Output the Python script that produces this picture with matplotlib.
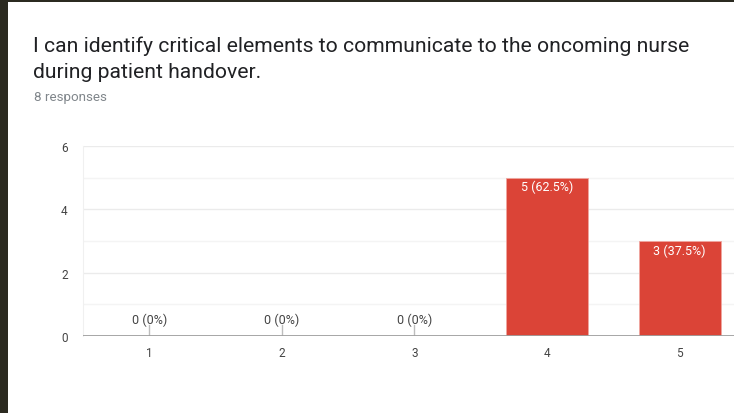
import matplotlib
matplotlib.use("Agg")
import matplotlib.pyplot as plt
from matplotlib.patches import Rectangle

# Survey answers on a 1-5 scale
categories = ["1", "2", "3", "4", "5"]
counts = [0, 0, 0, 5, 3]
total_responses = 8

title_lines = ["I can identify critical elements to communicate to the oncoming nurse",
               "during patient handover."]
subtitle = f"{total_responses} responses"

plt.rcParams['font.family'] = ['Roboto', 'DejaVu Sans']

W, H = 734, 414
fig = plt.figure(figsize=(W / 100, H / 100), dpi=100)
fig.patch.set_facecolor("white")

# dark frame along the top and left edges
frame = "#2b2a20"
fig.patches.append(Rectangle((0, 1 - 3 / H), 1, 3 / H, transform=fig.transFigure,
                             facecolor=frame, edgecolor="none", zorder=10))
fig.patches.append(Rectangle((0, 0), 8 / W, 1, transform=fig.transFigure,
                             facecolor=frame, edgecolor="none", zorder=10))

for i, line in enumerate(title_lines):
    fig.text(33 / W, 1 - (46 + 27 * i) / H, line, fontsize=15.2, color="#202124",
             va="center", ha="left")
fig.text(34 / W, 1 - 97 / H, subtitle, fontsize=9.6, color="#80868b",
         va="center", ha="left")

# plot area runs past the right edge of the figure
left, right = 83, 746
bottom, top = 337, 147
ax = fig.add_axes([left / W, 1 - bottom / H, (right - left) / W, (bottom - top) / H])
ax.set_facecolor("white")

x = list(range(1, len(categories) + 1))
ax.set_xlim(0.5, len(categories) + 0.5)
ax.set_ylim(0, 6)

for yv in range(1, 7):
    ax.axhline(yv, color="#ebebeb" if yv % 2 == 0 else "#f4f4f4", lw=1, zorder=0)
ax.axhline(0, color="#9e9e9e", lw=2, zorder=3)

bars = ax.bar(x, counts, width=0.62, color="#db4437", edgecolor="#f0a69f",
              linewidth=0.6, zorder=2)

for xi, c in zip(x, counts):
    label = f"{c} ({c / total_responses * 100:g}%)"
    if c == 0:
        ax.plot([xi, xi], [0, 0.36], color="#bdbdbd", lw=1, zorder=2)
        ax.text(xi, 0.52, label, ha="center", va="center", fontsize=9, color="#444444")
    else:
        ax.text(xi, c - 0.28, label, ha="center", va="center", fontsize=9, color="white")

ax.set_xticks(x)
ax.set_xticklabels(categories)
ax.set_yticks([0, 2, 4, 6])
ax.tick_params(axis="both", length=0, labelsize=8.5, labelcolor="#444444")
ax.tick_params(axis="x", pad=7)
ax.tick_params(axis="y", pad=11)
for s in ax.spines.values():
    s.set_visible(False)
ax.spines["left"].set_visible(True)
ax.spines["left"].set_color("#f0f0f0")

fig.savefig("out.png", dpi=100)
